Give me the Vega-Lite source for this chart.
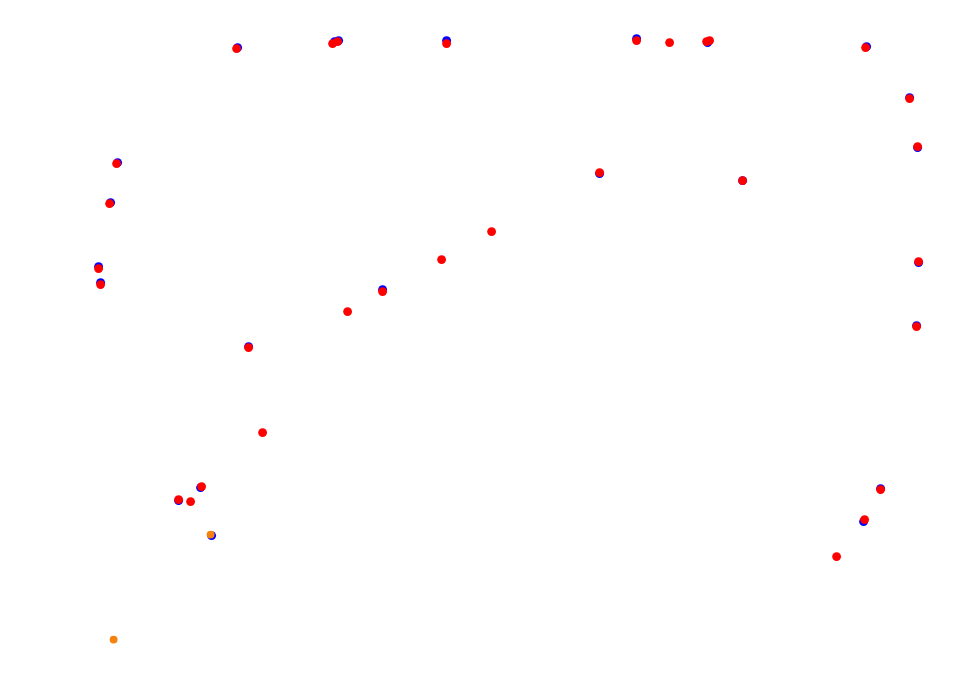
{
  "$schema": "https://vega.github.io/schema/vega-lite/v6.json",
  "width": 962,
  "height": 684,
  "autosize": {"type": "fit", "contains": "padding"},
  "padding": 0,
  "background": "white",
  "config": {"view": {"stroke": null}},
  "datasets": {
    "blue": [
      {"x": 117, "y": 162}, {"x": 110, "y": 202}, {"x": 98, "y": 266}, {"x": 100, "y": 282},
      {"x": 237, "y": 47}, {"x": 334, "y": 41}, {"x": 338, "y": 40}, {"x": 446, "y": 40},
      {"x": 636, "y": 38}, {"x": 707, "y": 42}, {"x": 866, "y": 46},
      {"x": 909, "y": 97}, {"x": 917, "y": 147}, {"x": 918, "y": 262}, {"x": 916, "y": 325},
      {"x": 880, "y": 488}, {"x": 863, "y": 521}, {"x": 742, "y": 180},
      {"x": 599, "y": 173}, {"x": 382, "y": 289},
      {"x": 248, "y": 346}, {"x": 200, "y": 487},
      {"x": 178, "y": 500}, {"x": 211, "y": 535}
    ],
    "red": [
      {"x": 116, "y": 163}, {"x": 109, "y": 203}, {"x": 98, "y": 268}, {"x": 100, "y": 284},
      {"x": 236, "y": 48}, {"x": 332, "y": 43}, {"x": 337, "y": 41}, {"x": 446, "y": 43},
      {"x": 636, "y": 40}, {"x": 669, "y": 42}, {"x": 706, "y": 41}, {"x": 709, "y": 40},
      {"x": 865, "y": 47}, {"x": 909, "y": 98}, {"x": 917, "y": 146}, {"x": 918, "y": 261},
      {"x": 916, "y": 326}, {"x": 880, "y": 489}, {"x": 864, "y": 519}, {"x": 836, "y": 556},
      {"x": 742, "y": 180}, {"x": 599, "y": 172}, {"x": 491, "y": 231}, {"x": 441, "y": 259},
      {"x": 382, "y": 291}, {"x": 347, "y": 311}, {"x": 248, "y": 347}, {"x": 262, "y": 432},
      {"x": 201, "y": 486}, {"x": 178, "y": 499}, {"x": 190, "y": 501}
    ],
    "orange": [
      {"x": 210, "y": 534}, {"x": 113, "y": 639}
    ]
  },
  "encoding": {
    "x": {"field": "x", "type": "quantitative", "axis": null, "scale": {"domain": [-0.6, 961.4], "nice": false, "zero": false}},
    "y": {"field": "y", "type": "quantitative", "axis": null, "scale": {"domain": [-0.6, 683.4], "nice": false, "zero": false, "reverse": true}}
  },
  "layer": [
    {"data": {"name": "blue"}, "mark": {"type": "circle", "color": "#0000ff", "opacity": 1, "size": 80}},
    {"data": {"name": "red"}, "mark": {"type": "circle", "color": "#ff0000", "opacity": 1, "size": 78}},
    {"data": {"name": "orange"}, "mark": {"type": "circle", "color": "#f5820f", "opacity": 1, "size": 62}}
  ]
}
